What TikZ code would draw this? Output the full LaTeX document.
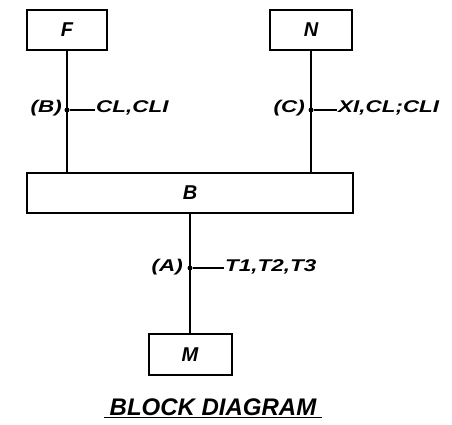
\documentclass[tikz,border=0pt]{standalone}
\usepackage{fontspec}
\setmainfont{Liberation Sans}
\usepackage{graphicx}
\newcommand{\wlab}[1]{\scalebox{1.32}[1]{#1}}
\begin{document}
\begin{tikzpicture}[x=1pt,y=-1pt,
  blk/.style={draw,line width=2pt,inner sep=0pt,font=\fontsize{20}{20}\selectfont\bfseries\itshape},
  wire/.style={line width=2pt},
  lbl/.style={inner sep=1pt,font=\fontsize{17}{17}\selectfont\bfseries\itshape},
  jdot/.style={circle,fill,inner sep=0pt,minimum size=5pt}]
\useasboundingbox (0,0) rectangle (452,425);
\node[blk,minimum width=80pt,minimum height=40pt] (F) at (67,30) {F};
\node[blk,minimum width=82pt,minimum height=40pt] (N) at (311,30) {N};
\node[blk,minimum width=326pt,minimum height=40pt] (B) at (190,193) {B};
\node[blk,minimum width=83pt,minimum height=41pt] (M) at (190,354.5) {M};
\draw[wire] (F.south) -- (F.south |- B.north);
\draw[wire] (N.south) -- (N.south |- B.north);
\draw[wire] (B.south) -- (B.south |- M.north);
% junctions
\node[jdot] (jb) at (67,110) {};
\node[jdot] (jc) at (311,110) {};
\node[jdot] (ja) at (190,268) {};
\node[lbl,anchor=east] (lb) at (63,108) {\wlab{(B)}};
\node[lbl,anchor=west] (tb) at (95,108) {\wlab{CL,CLI}};
\node[lbl,anchor=east] (lc) at (306,108) {\wlab{(C)}};
\node[lbl,anchor=west] (tc) at (337,108) {\wlab{XI,CL;CLI}};
\node[lbl,anchor=east] (la) at (184,267) {\wlab{(A)}};
\node[lbl,anchor=west] (ta) at (224,267) {\wlab{T1,T2,T3}};
\draw[line width=1.3pt] (jb) -- (jb -| tb.west);
\draw[line width=1.3pt] (jc) -- (jc -| tc.west);
\draw[line width=1.3pt] (ja) -- (ja -| ta.west);
% title
\node[inner xsep=5pt,inner ysep=2pt,font=\fontsize{24}{24}\selectfont\bfseries\itshape] (title) at (213,407) {BLOCK DIAGRAM};
\draw[line width=1.5pt] (title.south west) -- (title.south east);
\end{tikzpicture}
\end{document}
